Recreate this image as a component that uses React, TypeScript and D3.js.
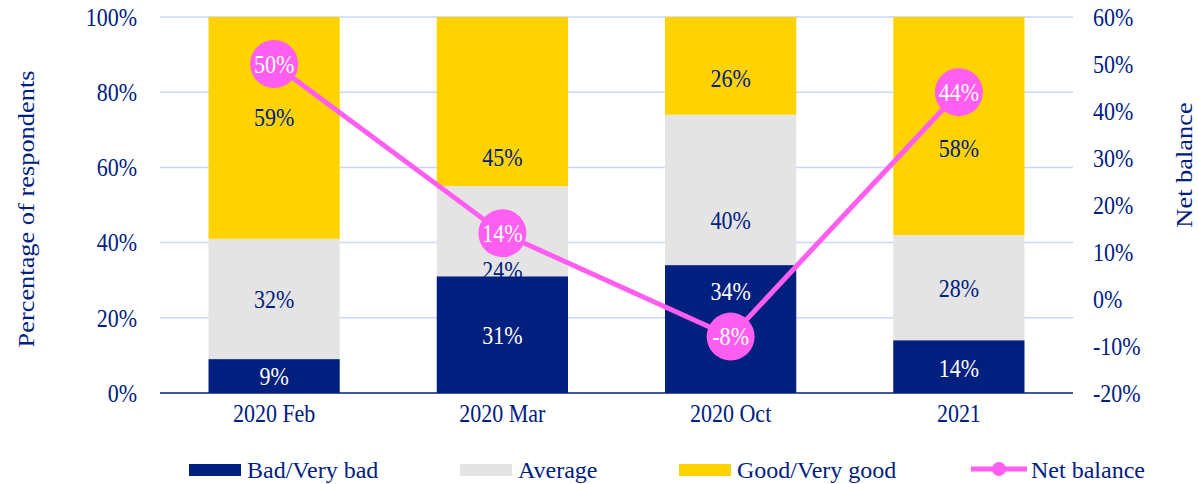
import React from 'react';
import * as d3 from 'd3';

const categories = ['2020 Feb', '2020 Mar', '2020 Oct', '2021'];
const badValues = [9, 31, 34, 14];
const averageValues = [32, 24, 40, 28];
const goodValues = [59, 45, 26, 58];
const netBalance = [50, 14, -8, 44];
const leftTicks = [0, 20, 40, 60, 80, 100];
const rightTicks = [-20, -10, 0, 10, 20, 30, 40, 50, 60];

const NAVY = '#00207f';
const GREY = '#e4e4e4';
const YELLOW = '#ffd300';
const PINK = '#ff5ef0';
const GRID = '#c9d5fa';
const FONT = '"Liberation Serif", "Times New Roman", serif';
const STRETCH = 1.14; // the original text is drawn a bit taller than wide

// label nudges (px) copied from the original chart's manual placement
const labelNudge: Record<string, number[]> = {
  bad: [0, 0, -38, 2],
  average: [0, 39, 30, 0],
  good: [-11, 56, 12, 22],
};

const Label = ({ x, y, anchor = 'middle', size = 22, fill = NAVY, children }: any) => (
  <g transform={`translate(${x},${y}) scale(1,${STRETCH})`}>
    <text dy="0.35em" textAnchor={anchor} fontSize={size} fill={fill}>{children}</text>
  </g>
);

const App = () => {
  const width = 1198;
  const height = 484;
  const marginLeft = 160;
  const marginRight = 125;
  const marginTop = 17;
  const plotBottom = 393;

  const x = d3.scaleBand()
    .domain(categories)
    .range([marginLeft, width - marginRight])
    .paddingInner(0.425)
    .paddingOuter(0.2125);

  const y = d3.scaleLinear().domain([0, 100]).range([plotBottom, marginTop]);
  const yRight = d3.scaleLinear().domain([-20, 60]).range([plotBottom, marginTop]);

  const series = [
    { key: 'average', color: GREY, text: NAVY },
    { key: 'good', color: YELLOW, text: NAVY },
    { key: 'bad', color: NAVY, text: '#ffffff' },
  ];

  const stacked = categories.map((c, i) => {
    const b = badValues[i];
    const a = averageValues[i];
    const g = goodValues[i];
    return {
      bad: [0, b],
      average: [b, b + a],
      good: [b + a, b + a + g],
      vals: { bad: b, average: a, good: g } as Record<string, number>,
    } as any;
  });

  const cx = (i: number) => x(categories[i])! + x.bandwidth() / 2;

  const line = d3.line<number>()
    .x((_, i) => cx(i))
    .y(d => yRight(d));

  const legend = [
    { label: 'Bad/Very bad', color: NAVY, x: 189 },
    { label: 'Average', color: GREY, x: 460 },
    { label: 'Good/Very good', color: YELLOW, x: 679 },
  ];

  return (
    <svg width={width} height={height} style={{ position: 'absolute', left: 0, top: 0, background: '#fff' }}
      fontFamily={FONT}>
      {/* gridlines */}
      {leftTicks.filter(t => t > 0).map(t => (
        <line key={t} x1={marginLeft} x2={width - marginRight} y1={y(t)} y2={y(t)} stroke={GRID} strokeWidth={1.5} />
      ))}
      {/* bars */}
      {series.map(s => (
        <g key={s.key}>
          {categories.map((c, i) => {
            const [lo, hi] = stacked[i][s.key];
            const ly = (y(lo) + y(hi)) / 2 + labelNudge[s.key][i];
            return (
              <g key={c}>
                <rect x={x(c)} y={y(hi)} width={x.bandwidth()} height={y(lo) - y(hi)} fill={s.color} />
                <Label x={cx(i)} y={ly} fill={s.text}>{stacked[i].vals[s.key]}%</Label>
              </g>
            );
          })}
        </g>
      ))}
      {/* bottom axis */}
      <line x1={marginLeft} x2={width - marginRight} y1={plotBottom} y2={plotBottom} stroke={NAVY} strokeWidth={1.5} />
      {categories.map((c, i) => (
        <Label key={c} x={cx(i)} y={413}>{c}</Label>
      ))}
      {/* left axis */}
      {leftTicks.map(t => (
        <Label key={t} x={137} y={y(t)} anchor="end">{t}%</Label>
      ))}
      <text transform={`translate(34,${(marginTop + plotBottom) / 2 + 4}) rotate(-90) scale(1.1,1)`} textAnchor="middle"
        fontSize={24} fill={NAVY}>Percentage of respondents</text>
      {/* right axis */}
      {rightTicks.map(t => (
        <Label key={t} x={1093} y={yRight(t)} anchor="start">{t}%</Label>
      ))}
      <text transform={`translate(1192,165) rotate(-90) scale(1.1,1)`} textAnchor="middle" fontSize={24} fill={NAVY}>Net balance</text>
      {/* net balance line */}
      <path d={line(netBalance) ?? ''} fill="none" stroke={PINK} strokeWidth={5} />
      {netBalance.map((v, i) => (
        <g key={i}>
          <circle cx={cx(i)} cy={yRight(v)} r={24} fill={PINK} />
          <Label x={cx(i)} y={yRight(v)} fill="#ffffff">{v}%</Label>
        </g>
      ))}
      {/* legend */}
      {legend.map(l => (
        <g key={l.label}>
          <rect x={l.x} y={464} width={52} height={12} fill={l.color} />
          <text x={l.x + 58} y={470} dy="0.35em" fontSize={24} fill={NAVY}>{l.label}</text>
        </g>
      ))}
      <g>
        <line x1={971} x2={1027} y1={469} y2={469} stroke={PINK} strokeWidth={5} />
        <circle cx={999} cy={469} r={7} fill={PINK} />
        <text x={1031} y={470} dy="0.35em" fontSize={24} fill={NAVY}>Net balance</text>
      </g>
    </svg>
  );
};

export default App;
